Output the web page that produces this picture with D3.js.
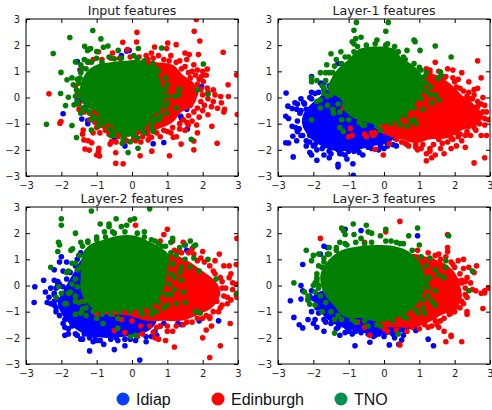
<!DOCTYPE html>
<html>
<head>
<meta charset="utf-8">
<title>Features by layer</title>
<style>
  html, body { margin: 0; padding: 0; background: #fff; }
  text { font-family: "DejaVu Sans", sans-serif; fill: #222; }
  .legend text { font-family: "Liberation Sans", sans-serif; fill: #111; font-size: 16px; }
</style>
</head>
<body>
<script src="https://cdn.jsdelivr.net/npm/d3@7"></script>
<script>
// The middle of each cloud is solid colour and its single points can't be read,
// so *_core holds the outline of that solid area, *_edge the points along its rim
// and *_pts the scattered points further out. All values are estimates.

var titles = ["Input features", "Layer-1 features", "Layer-2 features", "Layer-3 features"];
var ticks = [-3, -2, -1, 0, 1, 2, 3];
var names = ["Idiap", "Edinburgh", "TNO"];

// ---- Input features
var input_idiap_pts = [[-1.55,1.37],[-1.47,1.05],[-0.15,1.78],[-0.08,1.8],[-1.95,-0.62],[-1.42,-0.82],[-1.25,-0.88],[-1.25,-1.0],[-1.55,-0.1],[-1.3,-0.35],[-0.75,-1.1],[-0.5,-1.55],[-0.2,-1.85],[0.6,-1.77],[0.9,-1.72],[1.57,-1.2],[1.55,-0.45],[1.38,-0.72],[1.97,0.42],[0.15,-1.55],[-1.45,-0.12],[-0.3,1.6],[1.4,-0.8]];
var input_edinburgh_pts = [[1.82,2.98],[1.76,2.53],[1.92,2.16],[0.14,2.49],[2.58,1.73],[-2.35,0.14],[2.96,0.86],[2.72,0.49],[2.73,0.04],[2.51,0.04],[2.53,-0.2],[2.3,-0.15],[2.42,-0.41],[2.62,-0.45],[2.6,-0.55],[2.98,-0.65],[2.26,-1.1],[2.41,-1.75],[1.75,-2.0],[1.75,-1.66],[1.39,-1.78],[1.06,-2.23],[0.56,-2.05],[0.23,-2.23],[-0.25,-2.53],[-0.46,-2.51],[-0.46,-2.11],[-0.95,-2.07],[-1.0,-2.2],[-0.92,-2.24],[-0.94,-1.94],[-1.33,-1.97],[-1.21,-2.01],[-1.36,-1.62],[-1.24,-1.65],[-1.14,-1.73],[-1.38,-1.24],[-2.04,-0.98],[-2.01,-0.92],[-0.26,2.11],[-0.13,1.83],[0.13,2.12],[0.64,1.93],[1.01,2.08],[1.25,2.02],[0.98,1.87],[1.5,1.7],[1.62,1.64],[1.88,1.64],[1.55,1.45],[2.13,1.09],[1.97,0.81],[2.02,0.61],[2.13,0.36],[2.3,0.29],[2.15,-0.66],[1.83,-1.05],[1.59,-1.05],[1.26,-1.5],[1.17,-1.52],[0.8,-1.5],[0.55,-1.52],[0.46,-1.62],[-0.62,-1.78],[-0.58,-1.68],[-0.91,-1.35],[-1.1,-1.35],[-1.4,-1.4],[-1.5,-0.45],[-1.2,-0.6],[0.4,1.6],[0.55,1.7],[0.75,1.6],[1.1,1.6],[1.35,1.4],[1.75,1.25],[1.85,1.05],[1.7,1.0],[2.0,1.0],[1.5,1.18],[2.15,-0.05],[2.05,-0.3],[2.0,-0.5],[1.9,-0.75],[1.7,-0.9],[1.5,-1.25],[1.1,-1.35],[0.9,-1.25],[0.25,-1.7],[0.05,-1.55],[-0.2,-1.6],[-0.45,-1.7],[2.35,0.1],[2.15,0.2],[2.25,-0.35],[1.85,-1.35],[1.35,-1.2],[-0.95,1.75],[-1.2,1.85],[-0.55,1.7]];
var input_edinburgh_edge = [[1.9,0.7],[1.8,0.85],[1.95,0.3],[2.0,0.1],[1.95,-0.15],[1.85,-0.4],[1.75,-0.55],[1.6,-0.7],[1.45,-0.85],[1.35,-1.0],[1.15,-1.15],[1.0,-1.3],[0.7,-1.35],[0.45,-1.4],[0.3,-1.5],[1.6,0.95],[1.4,1.1],[1.25,1.35],[1.05,1.4],[0.9,1.45],[0.6,1.5],[0.45,1.45],[0.2,1.55],[-0.05,1.55],[-0.35,1.5],[-0.6,1.5],[-0.85,1.45],[-1.1,1.45],[-1.25,1.35],[-1.45,1.0],[-1.6,0.45],[-1.55,0.1],[-1.5,-0.25],[-1.35,-0.55],[-1.2,-0.85],[-1.05,-0.95],[-1.0,-1.15],[-0.75,-1.25],[-0.65,-1.4],[-0.4,-1.5],[-0.15,-1.65],[0.1,-1.65],[2.1,0.85],[1.85,0.5],[1.65,0.75],[1.55,-0.95],[1.65,-0.3],[1.8,0.15]];
var input_tno_pts = [[-1.11,2.56],[-1.76,2.29],[-0.88,2.24],[-2.23,1.68],[-1.34,1.96],[-1.17,1.87],[-0.68,1.97],[-0.81,1.92],[-1.0,1.76],[-0.39,1.8],[-2.01,0.96],[-1.84,0.68],[-1.6,1.36],[-2.02,0.15],[-1.8,0.01],[-1.88,-0.31],[-2.42,-1.02],[-1.7,-1.07],[-1.57,-1.53],[-1.15,-1.24],[-0.11,-2.1],[0.17,-1.94],[-0.05,-1.69],[-0.28,-1.75],[0.84,1.89],[2.02,1.28],[1.85,0.29],[2.15,0.12],[1.68,-1.6],[1.33,0.32],[1.19,0.04],[1.32,0.1],[0.98,-0.6],[0.9,0.05],[0.8,0.3],[0.77,-0.86],[0.6,-1.3],[0.18,1.87],[-1.26,1.8],[-1.41,1.13],[-1.66,0.49],[-1.47,0.74],[-1.57,0.29],[-1.64,-0.28],[-1.3,-0.47],[-1.09,-0.73],[-0.91,-0.92],[-1.26,1.38],[-0.53,-1.3],[-1.7,0.75],[-1.55,0.7],[-1.45,1.25],[-1.35,1.45],[-1.0,1.5],[-0.65,1.55],[0.05,1.6],[0.55,1.15],[0.7,1.1],[1.0,0.5],[1.0,-0.2],[1.25,-0.4],[0.8,-0.7],[0.6,-0.95],[0.35,-1.35],[0.15,-1.55],[-0.25,-1.6],[-0.6,-1.45],[-0.95,-1.1],[-1.15,-0.85],[-1.55,-0.15],[-1.45,-0.6]];
var input_tno_edge = [[-1.5,0.55],[-1.55,0.25],[-1.6,0.05],[-1.45,0.95],[-1.3,1.1],[-1.15,1.35],[-0.85,1.35],[-0.5,1.48],[-0.3,1.5],[0.15,1.5],[0.35,1.4],[0.6,1.3],[0.75,1.0],[0.95,0.75],[0.95,0.3],[1.0,0.05],[0.95,-0.35],[0.75,-0.5],[0.65,-0.8],[0.55,-1.15],[0.3,-1.25],[0.05,-1.45],[-0.25,-1.5],[-0.5,-1.45],[-0.65,-1.2],[-0.8,-1.0],[-1.0,-0.8],[-1.2,-0.55],[-1.4,-0.4],[-1.55,-0.25]];
var input_edinburgh_core = [[0.2,1.4],[0.7,1.35],[1.15,1.25],[1.45,0.85],[1.75,0.55],[1.85,0.1],[1.7,-0.35],[1.4,-0.55],[1.15,-0.95],[0.75,-1.2],[0.1,-1.45],[-0.3,-1.5],[-0.7,-1.3],[-1.0,-1.0],[-1.2,-0.65],[-0.5,0.2]];
var input_tno_core = [[-1.45,0.5],[-1.3,0.95],[-1.0,1.25],[-0.6,1.35],[-0.2,1.4],[0.2,1.42],[0.5,1.2],[0.75,0.85],[0.85,0.4],[0.9,0],[0.85,-0.35],[0.6,-0.7],[0.45,-1.05],[0.15,-1.3],[-0.1,-1.5],[-0.4,-1.35],[-0.55,-1.1],[-0.85,-0.85],[-1.0,-0.55],[-1.3,-0.35],[-1.5,0.0]];

// ---- Layer-1 features
var layer1_idiap_pts = [[-2.77,0.17],[-2.72,-0.33],[-2.78,-0.72],[-2.7,-0.8],[-2.52,-0.2],[-2.47,-0.45],[-2.6,-0.42],[-2.38,-0.6],[-2.27,-0.2],[-2.2,-0.45],[-2.5,-1.15],[-2.45,-1.3],[-2.6,-1.1],[-2.58,-1.48],[-2.78,-1.73],[-2.7,-1.74],[-2.47,-1.65],[-2.35,-1.45],[-2.57,-2.27],[-2.2,-1.85],[-2.1,-1.7],[-2.1,-2.1],[-2.05,-2.2],[-1.9,-2.0],[-1.9,-2.4],[-1.7,-2.2],[-1.55,-2.05],[-1.3,-2.0],[-1.3,-2.55],[-1.3,-2.65],[-0.88,-2.53],[-1.05,-2.35],[-1.1,-2.2],[-0.85,-2.05],[-0.6,-2.2],[-0.75,-1.95],[-0.35,-1.95],[-0.15,-2.0],[0.0,-1.95],[0.25,-1.8],[0.35,-1.85],[-0.87,-2.97],[-2.05,0.2],[-1.95,0.15],[-1.8,0.55],[-1.7,0.55],[-2.05,0.8],[-1.3,1.3],[-2.15,-0.9],[-2.2,-1.1],[-2.1,-1.45],[-1.55,-2.3],[-1.7,-1.85],[-1.2,-2.15],[-1.95,-1.8],[-2.35,-0.05]];
var layer1_idiap_edge = [[-2.35,-0.5],[-2.45,-0.9],[-2.4,-1.2],[-2.3,-1.45],[-2.2,-1.65],[-2.0,-1.85],[-1.75,-1.95],[-1.5,-2.15],[-1.25,-2.15],[-1.0,-2.05],[-0.7,-2.1],[-0.45,-1.9],[-0.1,-1.85],[0.1,-1.85],[0.3,-1.55],[-2.25,-0.25],[-2.05,-0.05],[-1.85,0.2],[-1.7,0.3],[-1.55,0.45],[-1.4,0.5],[-2.45,-0.25],[-2.1,0.0]];
var layer1_edinburgh_pts = [[1.45,1.35],[2.65,1.4],[1.8,1.1],[1.95,1.05],[1.3,1.05],[2.2,0.95],[2.75,0.75],[2.1,0.7],[2.4,0.6],[2.0,0.6],[2.55,0.3],[2.65,0.35],[2.4,0.2],[2.55,0.1],[2.8,0.0],[2.65,-0.15],[2.85,-0.3],[2.9,-0.55],[2.95,-0.85],[2.85,-1.05],[2.9,-1.45],[2.75,-1.45],[2.6,-1.25],[2.45,-1.45],[2.2,-1.65],[2.3,-1.9],[2.05,-1.85],[1.9,-1.95],[1.6,-1.95],[1.7,-2.15],[1.45,-2.2],[1.3,-2.05],[1.2,-2.15],[1.35,-2.3],[1.2,-2.42],[2.55,-2.5],[2.85,-2.3],[0.65,-1.8],[0.9,-1.8],[0.95,-2.0],[0.6,-1.75],[0.15,-1.77],[-0.02,-2.2],[-0.25,-1.98],[-0.55,-1.4],[-0.5,-1.5],[-0.35,-1.35],[-0.25,-1.35],[-0.3,-1.45],[-0.9,-1.45],[-1.0,-1.5],[-0.95,-1.18],[-1.15,-0.4],[1.55,-1.6],[1.8,-1.7],[2.1,-1.5],[1.9,-1.55],[2.4,-1.1],[2.75,-0.25],[2.45,-0.05],[2.15,0.35],[1.75,0.8],[1.55,0.75],[1.2,1.1],[1.2,0.7],[1.45,0.55]];
var layer1_edinburgh_edge = [[1.2,0.75],[1.3,0.95],[1.55,1.0],[1.7,0.75],[1.95,0.75],[2.05,0.4],[2.25,0.25],[2.35,0.05],[2.5,-0.05],[2.65,-0.35],[2.8,-0.55],[2.85,-0.8],[2.7,-1.0],[2.55,-1.15],[2.35,-1.3],[2.15,-1.4],[1.95,-1.6],[1.65,-1.75],[1.4,-1.8],[1.1,-1.8],[0.9,-1.9],[0.7,-1.85],[0.5,-1.7],[0.35,-1.6],[1.05,-1.95],[1.3,-1.95],[2.05,-1.35],[2.3,-1.45],[2.6,-0.95]];
var layer1_tno_pts = [[-0.78,2.87],[0.12,2.87],[-0.85,2.57],[0.05,2.53],[-0.65,2.3],[-0.8,2.25],[-0.9,2.13],[-0.85,2.05],[-0.2,2.2],[0.1,2.05],[0.85,2.2],[0.88,2.13],[0.65,1.8],[1.02,1.8],[1.45,1.97],[1.9,1.55],[1.6,0.97],[1.62,0.85],[1.52,0.72],[1.2,0.95],[1.05,1.05],[1.2,0.55],[1.32,0.4],[1.45,0.1],[1.3,0.1],[1.0,0.15],[1.35,-0.2],[1.55,-0.1],[1.1,-0.45],[0.85,-0.85],[0.9,-1.0],[0.65,-1.1],[0.75,-0.9],[0.4,-0.9],[-1.5,1.67],[-1.22,1.75],[-1.35,1.45],[-1.62,1.25],[-1.8,0.95],[-2.05,0.75],[-2.05,0.6],[-1.9,0.65],[-1.75,0.45],[-1.7,0.15],[-1.9,-0.15],[-1.8,-0.1],[-1.6,0.05],[-1.6,-0.3],[-1.8,-0.4],[-1.45,-0.45],[-1.43,-0.6],[-1.1,-0.3],[-1.2,-0.85],[-1.25,-1.15],[-1.15,-1.3],[-2.05,-0.85],[-0.7,-0.95],[-0.55,-1.05],[-1.65,0.95],[-1.45,0.95],[-1.0,1.55],[-0.1,-1.25],[0.45,-1.05],[0.4,1.75],[0.55,1.55]];
var layer1_tno_edge = [[-1.7,0.35],[-1.65,0.65],[-1.55,0.95],[-1.4,1.2],[-1.2,1.3],[-1.1,1.55],[-0.85,1.75],[-0.75,1.95],[-0.5,2.0],[-0.25,2.05],[0.05,2.0],[0.3,1.95],[0.4,1.75],[0.6,1.45],[0.85,1.3],[1.0,1.15],[1.15,0.8],[1.2,0.25],[1.05,-0.05],[0.85,-0.4],[0.6,-0.7],[0.2,-1.0],[-0.2,-1.1],[-0.6,-1.05],[-1.0,-0.85],[-1.25,-0.55],[-1.3,-0.25],[-1.5,0.1]];
var layer1_idiap_core = [[-2.3,-0.7],[-2.1,-0.3],[-1.8,0.05],[-1.5,0.35],[-1.2,0.1],[-0.8,-0.3],[-0.3,-1.0],[0.2,-1.35],[0.2,-1.7],[-0.3,-1.85],[-0.8,-2.0],[-1.3,-2.05],[-1.7,-1.9],[-2.05,-1.6],[-2.3,-1.1]];
var layer1_edinburgh_core = [[-0.2,-1.2],[0.5,-0.6],[0.9,0.2],[1.15,0.9],[1.5,0.85],[1.85,0.55],[2.2,0.1],[2.5,-0.2],[2.8,-0.7],[2.6,-1.05],[2.2,-1.25],[1.8,-1.55],[1.3,-1.6],[0.9,-1.75],[0.5,-1.6],[0.2,-1.5]];
var layer1_tno_core = [[-1.6,0.3],[-1.5,0.7],[-1.3,1.1],[-1.0,1.45],[-0.7,1.85],[-0.2,1.95],[0.3,1.85],[0.5,1.5],[0.75,1.3],[1.0,1.0],[1.15,0.6],[1.1,0.2],[0.95,-0.1],[0.7,-0.55],[0.3,-0.9],[-0.1,-1.05],[-0.5,-0.95],[-0.9,-0.75],[-1.15,-0.45],[-1.2,-0.1],[-1.35,0.05]];

// ---- Layer-2 features
var layer2_idiap_pts = [[-2.75,-0.05],[-2.77,-0.65],[-2.5,0.2],[-2.45,-0.25],[-2.3,-0.1],[-2.35,-0.45],[-2.4,-0.65],[-2.3,-0.7],[-2.2,-0.3],[-2.2,-0.6],[-2.2,-0.75],[-2.15,-1.0],[-2.15,-0.1],[-2.2,0.2],[-2.1,0.15],[-2.1,0.05],[-2.2,0.6],[-2.05,0.9],[-2.0,1.1],[-1.85,0.9],[-1.95,0.55],[-1.85,0.25],[-1.45,1.25],[-1.5,1.15],[-1.9,-1.3],[-1.9,-1.6],[-1.9,-1.9],[-1.8,-1.85],[-1.7,-1.55],[-1.55,-1.9],[-1.45,-2.05],[-1.4,-2.05],[-1.25,-1.85],[-1.2,-2.5],[-1.1,-2.15],[-1.0,-2.1],[-0.8,-2.25],[-0.6,-2.05],[-0.5,-2.45],[-0.45,-2.0],[-0.2,-2.3],[-0.05,-2.05],[0.1,-2.1],[0.4,-2.15],[0.55,-1.95],[0.7,-1.9],[0.22,-2.85],[2.45,-1.35],[1.5,1.55],[1.4,-1.5],[1.3,-1.45],[1.9,-1.35],[1.55,1.35],[0.9,-1.45],[-1.65,-1.25],[-2.05,-0.55],[-1.05,-1.95]];
var layer2_idiap_edge = [[-2.2,-0.35],[-2.15,-0.85],[-2.05,-1.15],[-1.95,-1.45],[-1.8,-1.65],[-1.6,-1.85],[-1.35,-1.85],[-1.2,-2.0],[-0.9,-2.1],[-0.7,-1.9],[-0.4,-2.1],[-0.2,-2.05],[0.15,-1.95],[0.4,-1.95],[0.65,-1.75],[0.8,-1.55],[-1.75,0.5],[-1.6,0.75],[-1.55,1.0],[-2.05,0.05],[-1.95,-0.05]];
var layer2_edinburgh_pts = [[0.1,2.3],[1.0,2.15],[0.9,1.95],[1.15,1.7],[0.8,1.7],[1.45,1.65],[2.97,1.8],[2.47,1.2],[2.35,0.95],[2.6,0.75],[2.75,0.75],[2.95,0.8],[2.8,0.45],[2.75,0.3],[2.85,0.1],[2.95,0.05],[2.85,-0.15],[2.95,-0.35],[2.97,-0.45],[2.8,-0.55],[2.7,-0.7],[2.55,-0.75],[2.78,-1.45],[2.45,-1.0],[2.2,-1.25],[2.2,-1.2],[2.25,-1.55],[2.1,-1.7],[2.0,-2.0],[2.5,-2.3],[2.2,-2.75],[1.2,-2.35],[0.95,-2.1],[0.75,-2.05],[0.65,-2.0],[0.6,-1.8],[1.15,-1.75],[1.0,-1.75],[0.3,-1.85],[0.15,-1.92],[-0.2,-1.8],[-0.5,-1.72],[-1.0,-1.1],[-1.4,-0.6],[1.7,1.4],[1.3,1.3],[2.0,1.3],[1.95,1.05],[1.75,1.2],[2.3,0.55],[2.05,0.9],[2.5,0.3],[2.6,-0.4],[2.55,-0.1],[2.4,-0.6],[2.0,-1.25],[1.7,-1.4],[1.45,-1.5],[0.8,-1.55]];
var layer2_edinburgh_edge = [[1.2,1.35],[1.4,1.25],[1.6,1.25],[1.85,0.95],[2.2,0.75],[2.35,0.45],[2.55,0.15],[2.65,-0.1],[2.7,-0.45],[2.5,-0.85],[2.3,-1.0],[2.1,-1.15],[1.85,-1.25],[1.55,-1.4],[1.25,-1.55],[1.0,-1.55],[0.7,-1.6],[0.5,-1.55],[0.25,-1.55],[0,-1.35],[-0.3,-1.3],[-0.55,-1.1]];
var layer2_tno_pts = [[-1.15,2.85],[0.5,2.93],[-2.0,2.55],[-2.0,2.3],[-0.9,2.35],[-0.65,2.35],[-0.65,2.25],[-0.45,2.55],[-0.3,2.25],[-0.15,2.3],[-0.05,2.5],[0.07,2.55],[-0.78,2.05],[-0.55,2.05],[-1.6,2.0],[-2.08,1.65],[-2.05,1.55],[-2.1,1.3],[-1.73,1.35],[-1.68,1.4],[-1.45,1.65],[-1.25,1.7],[-1.0,1.85],[0.35,2.05],[0.65,1.7],[0.75,1.6],[1.15,1.8],[1.1,1.65],[1.5,1.55],[1.65,1.7],[1.75,1.5],[0.95,1.5],[1.35,1.45],[1.8,1.55],[2.15,1.0],[1.75,1.05],[1.5,1.0],[1.25,1.15],[1.15,0.8],[1.4,0.7],[1.65,0.7],[1.9,0.55],[1.35,0.5],[1.2,0.3],[2.38,0.25],[2.97,-0.3],[1.4,0.2],[1.2,-0.15],[1.1,-0.35],[1.25,-0.7],[1.0,-0.75],[1.5,-0.65],[1.45,-0.25],[0.9,-0.85],[0.7,-1.0],[0.55,-1.1],[1.8,-1.0],[1.93,-1.05],[0.3,-1.1],[-0.05,-1.95],[0.1,-1.9],[-0.4,-1.63],[-0.4,-1.25],[-0.82,-1.45],[-1.0,-1.25],[-1.3,-1.15],[-1.4,-0.9],[-1.45,-1.05],[-1.6,-1.1],[-1.35,-0.6],[-1.6,-0.6],[-1.9,-0.7],[-1.85,-0.7],[-1.8,-0.3],[-2.15,-0.45],[-2.0,-0.3],[-2.08,-0.05],[-1.85,0.5],[-1.8,0.55],[-1.7,0.05],[-1.75,-0.25],[-1.45,0.7],[-1.7,0.85],[-2.3,0.7]];
var layer2_tno_edge = [[-1.55,0.6],[-1.6,0.25],[-1.55,-0.05],[-1.6,-0.4],[-1.5,-0.65],[-1.3,-0.85],[-1.1,-1.0],[-0.85,-1.1],[-0.6,-1.1],[-0.35,-1.0],[-0.05,-0.98],[0.25,-1.0],[0.55,-0.9],[0.75,-0.65],[0.95,-0.35],[1.05,0.05],[1.1,0.45],[1.15,0.85],[1.1,1.25],[0.85,1.5],[0.55,1.75],[0.35,1.85],[0.15,2.0],[-0.2,2.05],[-0.5,2.0],[-0.75,1.85],[-1.0,1.75],[-1.25,1.65],[-1.4,1.5],[-1.5,1.15],[-1.6,0.85]];
var layer2_idiap_core = [[-2.1,-0.7],[-1.9,-0.1],[-1.6,0.6],[-1.4,1.0],[-1.0,0.5],[0.3,-0.8],[0.7,-1.3],[0.5,-1.7],[0,-1.9],[-0.6,-2.0],[-1.1,-1.95],[-1.5,-1.75],[-1.85,-1.35]];
var layer2_edinburgh_core = [[0.5,1.0],[1.1,1.2],[1.5,1.0],[2.0,0.55],[2.4,0.1],[2.5,-0.3],[2.3,-0.8],[1.9,-1.1],[1.4,-1.35],[0.9,-1.35],[0.4,-1.35],[-0.1,-1.15],[-0.9,-1.0]];
var layer2_tno_core = [[-1.45,0.3],[-1.4,1.2],[-1.2,1.55],[-0.8,1.75],[-0.4,1.9],[0.1,1.9],[0.45,1.7],[0.8,1.45],[1.05,1.15],[1.0,0.6],[0.95,0.1],[0.85,-0.3],[0.6,-0.75],[0.2,-0.92],[-0.2,-0.95],[-0.6,-1.0],[-1.0,-1.0],[-1.25,-0.7],[-1.45,-0.2]];

// ---- Layer-3 features
var layer3_idiap_pts = [[-2.65,-0.58],[-2.35,-0.52],[-2.55,-1.22],[-2.4,-1.5],[-2.3,-1.62],[-2.15,-1.3],[-2.05,-1.0],[-2.0,-1.45],[-1.9,-1.6],[-1.95,-1.3],[-1.9,-0.85],[-1.7,-1.75],[-1.65,-1.4],[-1.5,-1.2],[-1.25,-1.9],[-1.2,-1.45],[-1.05,-1.6],[-0.8,-1.75],[-0.65,-1.8],[-0.82,-2.3],[-0.4,-2.17],[-0.45,-1.85],[-0.15,-1.85],[0.05,-1.8],[0.15,-2.27],[0.5,-2.08],[0.42,-2.25],[0.9,-1.72],[1.25,-2.05],[1.4,-2.3],[-2.3,0.8],[-2.1,-0.4],[-2.3,-0.2],[-2.35,0.0],[-2.15,-0.55],[-1.85,-0.7],[-1.8,1.2],[-1.7,1.5],[-1.1,2.15],[-0.65,2.1],[0.95,1.9],[0.7,1.0],[-1.6,1.45],[-1.65,-1.05],[-1.35,-1.65],[-1.0,-1.75],[-0.25,-1.9],[0.25,-1.85],[0.6,-1.75]];
var layer3_idiap_edge = [[-2.0,-0.5],[-1.85,-1.05],[-1.7,-1.3],[-1.5,-1.45],[-1.3,-1.6],[-1.1,-1.8],[-0.9,-1.85],[-0.55,-1.7],[-0.3,-1.95],[0.0,-1.95],[0.3,-2.0],[0.55,-1.9],[0.85,-1.6],[-2.05,-0.2]];
var layer3_edinburgh_pts = [[0.45,2.45],[0.05,2.05],[-1.8,1.8],[-0.55,1.65],[1.8,1.95],[1.8,1.45],[1.8,1.3],[1.45,1.15],[1.9,0.9],[2.1,0.95],[2.25,1.0],[2.0,0.7],[2.25,0.65],[2.4,0.7],[2.62,0.75],[2.55,0.5],[2.35,0.3],[2.45,0.1],[2.2,0.1],[2.05,0.2],[2.75,-0.3],[2.85,-0.2],[2.95,-0.1],[2.85,-0.28],[2.6,-0.2],[2.5,-0.15],[2.35,-0.45],[2.2,-0.6],[2.05,-0.8],[2.8,-0.88],[2.35,-1.0],[2.35,-1.1],[2.0,-1.0],[1.85,-1.1],[1.6,-1.35],[1.5,-1.5],[1.55,-1.6],[1.7,-1.75],[1.9,-1.95],[1.75,-2.15],[1.9,-1.9],[2.2,-2.15],[0.45,-2.27],[-0.4,-1.9],[-0.55,-1.6],[-0.75,-1.4],[0.1,-1.75],[0.8,-1.6],[1.35,-1.55],[1.15,-1.5],[1.35,0.95],[1.6,1.0],[2.3,0.15],[1.8,-0.95],[0.95,1.35]];
var layer3_edinburgh_edge = [[1.25,1.25],[1.55,1.2],[1.75,1.1],[1.95,0.8],[2.15,0.45],[2.2,0.2],[2.3,-0.1],[2.3,-0.35],[2.25,-0.7],[2.15,-0.85],[1.9,-1.05],[1.7,-1.25],[1.45,-1.35],[1.25,-1.6],[1.0,-1.65],[0.65,-1.75],[0.35,-1.7],[0.0,-1.65]];
var layer3_tno_pts = [[-2.55,0.1],[-2.2,1.35],[-2.25,-0.25],[-2.15,-0.4],[-2.15,-0.55],[-2.1,-0.72],[-2.05,0.95],[-2.0,1.15],[-1.85,1.2],[-1.55,1.45],[-1.35,1.35],[-1.25,1.65],[-1.2,2.2],[-1.15,2.1],[-0.87,2.35],[-1.1,1.95],[-0.85,1.95],[-0.65,1.8],[-0.5,2.3],[-0.45,2.05],[-0.35,2.0],[-0.1,1.9],[0.05,2.15],[0.7,1.9],[0.95,2.2],[0.35,1.65],[0.55,1.6],[1.83,1.9],[1.0,1.55],[1.3,1.05],[1.75,0.95],[1.75,0.7],[1.45,0.6],[1.55,0.4],[1.7,0.3],[1.3,0.3],[1.2,0.1],[2.5,0.55],[2.4,-0.2],[1.45,-0.2],[1.25,-0.4],[1.35,-0.6],[1.45,-0.75],[1.1,-0.85],[0.95,-1.05],[1.15,-1.05],[0.65,-1.25],[0.4,-1.85],[-0.1,-1.55],[-0.45,-1.55],[-1.4,-1.82],[-0.8,-1.4],[-1.4,-1.3],[-1.3,-1.15],[-1.75,-1.0],[-1.95,-0.75],[-1.9,0.25],[-1.95,0.1],[-2.0,0.0],[-1.95,-0.25],[-1.85,0.0],[-1.75,0.7],[-1.7,0.9],[-1.9,0.3],[-1.6,1.2],[-1.1,1.6],[-0.55,1.6],[0.2,1.7]];
var layer3_tno_edge = [[-1.9,0.45],[-1.85,0.75],[-1.7,1.05],[-1.55,1.2],[-1.35,1.45],[-1.05,1.55],[-0.8,1.65],[-0.35,1.65],[0.05,1.7],[0.45,1.6],[0.8,1.35],[1.05,1.1],[1.2,0.75],[1.25,0.3],[1.25,-0.1],[1.1,-0.55],[0.9,-0.95],[0.55,-1.2],[0.25,-1.35],[-0.2,-1.5],[-0.55,-1.35],[-0.9,-1.3],[-1.2,-1.3],[-1.5,-1.0],[-1.65,-0.65],[-1.8,-0.4],[-1.85,-0.1],[-1.9,0.15]];
var layer3_idiap_core = [[-2,-0.4],[-1.85,-0.9],[-1.6,-1.3],[-1.2,-1.6],[-0.8,-1.75],[-0.3,-1.85],[0.3,-1.85],[0.8,-1.55],[0.3,0]];
var layer3_edinburgh_core = [[0.7,1.15],[1.2,1.1],[1.7,0.85],[2.0,0.5],[2.15,0],[2.2,-0.5],[2.0,-0.9],[1.6,-1.15],[1.2,-1.45],[0.8,-1.6],[0.3,-1.6],[-0.2,-1.5]];
var layer3_tno_core = [[-1.8,0.4],[-1.55,1.0],[-1.2,1.35],[-0.7,1.5],[-0.2,1.55],[0.3,1.5],[0.7,1.3],[1.0,0.9],[1.15,0.4],[1.15,-0.1],[1.0,-0.6],[0.7,-1.0],[0.3,-1.25],[-0.1,-1.4],[-0.6,-1.25],[-1.1,-1.2],[-1.4,-0.8],[-1.7,-0.3]];

var colors = ["#0000ff", "#ff0000", "#007f00"];
var legendColors = ["#0a3cff", "#ff0000", "#009050"];

// drawing order: blue, then red, then green on top
var panels = [
  { x: 26,  y: 19,  cores: [null, input_edinburgh_core, input_tno_core],
    pts: [input_idiap_pts, input_edinburgh_pts.concat(input_edinburgh_edge), input_tno_pts.concat(input_tno_edge)] },
  { x: 278, y: 19,  cores: [layer1_idiap_core, layer1_edinburgh_core, layer1_tno_core],
    pts: [layer1_idiap_pts.concat(layer1_idiap_edge), layer1_edinburgh_pts.concat(layer1_edinburgh_edge), layer1_tno_pts.concat(layer1_tno_edge)] },
  { x: 26,  y: 207, cores: [layer2_idiap_core, layer2_edinburgh_core, layer2_tno_core],
    pts: [layer2_idiap_pts.concat(layer2_idiap_edge), layer2_edinburgh_pts.concat(layer2_edinburgh_edge), layer2_tno_pts.concat(layer2_tno_edge)] },
  { x: 278, y: 207, cores: [layer3_idiap_core, layer3_edinburgh_core, layer3_tno_core],
    pts: [layer3_idiap_pts.concat(layer3_idiap_edge), layer3_edinburgh_pts.concat(layer3_edinburgh_edge), layer3_tno_pts.concat(layer3_tno_edge)] }
];

var w = 212, h = 157;
var x = d3.scaleLinear().domain([-3, 3]).range([0, w]);
var y = d3.scaleLinear().domain([-3, 3]).range([h, 0]);
var blob = d3.line().x(function(d) { return x(d[0]); }).y(function(d) { return y(d[1]); }).curve(d3.curveCatmullRomClosed);

var svg = d3.select("body").append("svg")
  .attr("width", 492).attr("height", 410).style("display", "block");

svg.append("defs").append("clipPath").attr("id", "plot")
  .append("rect").attr("width", w).attr("height", h);

panels.forEach(function(p, i) {
  var g = svg.append("g").attr("transform", "translate(" + p.x + "," + p.y + ")");
  var marks = g.append("g").attr("clip-path", "url(#plot)");

  names.forEach(function(name, k) {
    if (p.cores[k]) {
      marks.append("path").attr("d", blob(p.cores[k])).attr("fill", colors[k]);
    }
    marks.selectAll(".c" + k).data(p.pts[k]).enter().append("circle")
      .attr("class", "c" + k)
      .attr("cx", function(d) { return x(d[0]); })
      .attr("cy", function(d) { return y(d[1]); })
      .attr("r", 2.8)
      .attr("fill", colors[k]);
  });

  // inward ticks on all four sides, matplotlib style
  var fmt = function(d) { return d < 0 ? "\u2212" + (-d) : d; };
  g.append("g").attr("transform", "translate(0," + h + ")").call(d3.axisBottom(x).tickValues(ticks).tickFormat(fmt).tickSizeInner(-4).tickSizeOuter(0).tickPadding(6));
  g.append("g").call(d3.axisTop(x).tickValues(ticks).tickFormat("").tickSizeInner(-4).tickSizeOuter(0));
  g.append("g").call(d3.axisLeft(y).tickValues(ticks).tickFormat(fmt).tickSizeInner(-4).tickSizeOuter(0).tickPadding(6));
  g.append("g").attr("transform", "translate(" + w + ",0)").call(d3.axisRight(y).tickValues(ticks).tickFormat("").tickSizeInner(-4).tickSizeOuter(0));
  g.selectAll(".tick text").style("font-size", "10px").style("font-family", "'DejaVu Sans'").attr("fill", "#222");
  g.selectAll(".domain").remove();

  g.append("rect").attr("width", w).attr("height", h).attr("fill", "none").attr("stroke", "#000").attr("stroke-width", 1);

  g.append("text").attr("x", w / 2).attr("y", -4).attr("text-anchor", "middle")
    .style("font-size", "12.6px").text(titles[i]);
});

// legend along the bottom
var legendX = d3.scaleOrdinal().domain(names).range([123, 218, 341]);
var legend = svg.append("g").attr("class", "legend");
names.forEach(function(name, k) {
  legend.append("circle").attr("cx", legendX(name)).attr("cy", 399).attr("r", 6.5).attr("fill", legendColors[k]);
  legend.append("text").attr("x", legendX(name) + 13).attr("y", 404.5).text(name);
});
</script>
</body>
</html>
